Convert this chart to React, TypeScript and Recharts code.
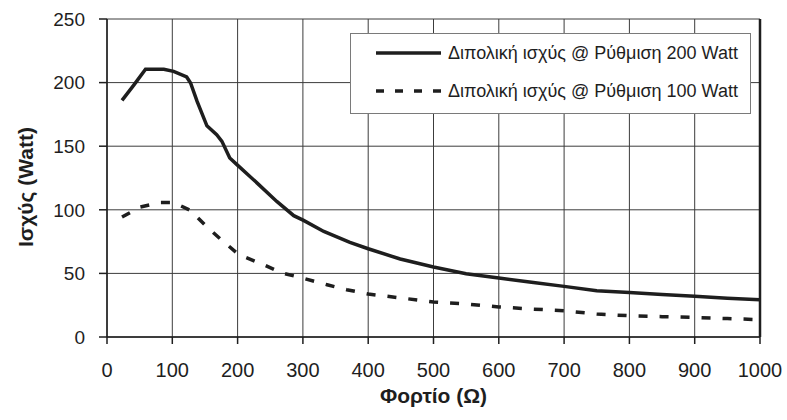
import React from "react";
import {
  LineChart,
  Line,
  XAxis,
  YAxis,
  CartesianGrid,
  Legend,
  ReferenceLine,
} from "recharts";

// Φορτίο (Ω) και ισχύς (Watt), διαβασμένα από το διάγραμμα
const load200 = [23, 41, 59, 87, 102, 122, 128, 138, 153, 168, 176, 188, 199, 230, 260, 286, 301, 332, 372, 400, 449, 500, 550, 600, 650, 700, 750, 800, 850, 900, 950, 1000];
const power200 = [186, 198, 210.5, 210.5, 208.8, 204.4, 199.7, 185.2, 166, 159, 153.8, 140.7, 135.5, 121, 106.6, 95.4, 91.7, 83, 74.4, 69.4, 61.3, 55, 49.8, 46.4, 43, 39.8, 36.4, 35, 33.5, 32, 30.5, 29.3];

const load100 = [23, 51, 82, 102, 128, 153, 179, 202, 240, 268, 299, 337, 367, 400, 450, 500, 550, 600, 650, 700, 750, 800, 850, 900, 950, 1000];
const power100 = [94.3, 102.2, 105.8, 105.8, 99.5, 86.5, 74.7, 64.7, 56.8, 50.3, 46.4, 41.1, 37.2, 33.8, 30.7, 27.5, 26, 23.6, 22, 20.7, 18, 16.7, 16, 15.4, 14.5, 13.6];

const xTicks = [0, 100, 200, 300, 400, 500, 600, 700, 800, 900, 1000];
const yTicks = [0, 50, 100, 150, 200, 250];

const seriesNames = [
  "Διπολική ισχύς @ Ρύθμιση 200 Watt",
  "Διπολική ισχύς @ Ρύθμιση 100 Watt",
];

const data200 = load200.map((x, i) => ({ load: x, power: power200[i] }));
const data100 = load100.map((x, i) => ({ load: x, power: power100[i] }));

const FONT = "'Liberation Sans', Arial, sans-serif";
const INK = "#1e1e1e";

function LegendBox() {
  const dashes = ["", "8 11"];
  return (
    <div
      style={{
        width: 401,
        height: 81,
        boxSizing: "border-box",
        border: "1px solid #7a7a7a",
        background: "#fff",
        fontFamily: FONT,
        fontSize: 18,
        color: INK,
        position: "relative",
      }}
    >
      {seriesNames.map((name, i) => (
        <div
          key={name}
          style={{
            position: "absolute",
            left: 0,
            top: i === 0 ? 7 : 45,
            height: 24,
            display: "flex",
            alignItems: "center",
            whiteSpace: "nowrap",
          }}
        >
          <svg width={96} height={24} style={{ display: "block" }}>
            <line
              x1={25}
              x2={i === 0 ? 90 : 95}
              y1={12}
              y2={12}
              stroke={INK}
              strokeWidth={3.5}
              strokeDasharray={dashes[i] || undefined}
            />
          </svg>
          <span style={{ marginLeft: 1 }}>{name}</span>
        </div>
      ))}
    </div>
  );
}

export default function App() {
  return (
    <div style={{ position: "absolute", left: 0, top: 0, width: 787, height: 420, background: "#fff" }}>
      <LineChart
        width={787}
        height={420}
        margin={{ top: 19, right: 27, bottom: 0, left: 0 }}
      >
        <CartesianGrid stroke="#3c3c3c" strokeWidth={1} vertical horizontal />
        <XAxis
          dataKey="load"
          type="number"
          domain={[0, 1000]}
          ticks={xTicks}
          allowDuplicatedCategory={false}
          height={83}
          tickSize={7}
          tickMargin={19}
          stroke={INK}
          strokeWidth={1.5}
          tick={{ fontSize: 20, fill: INK, fontFamily: FONT }}
          label={{
            content: ({ viewBox }: any) => (
              <text
                x={viewBox.x + viewBox.width / 2}
                y={viewBox.y + 66}
                textAnchor="middle"
                fontFamily={FONT}
                fontWeight="bold"
                fontSize={21}
                fill={INK}
              >
                Φορτίο (Ω)
              </text>
            ),
          }}
        />
        <YAxis
          type="number"
          domain={[0, 250]}
          ticks={yTicks}
          width={107}
          tickSize={8}
          tickMargin={14}
          stroke={INK}
          strokeWidth={1.5}
          tick={{ fontSize: 19, fill: INK, fontFamily: FONT }}
          label={{
            content: ({ viewBox }: any) => {
              const cx = viewBox.x + 25;
              const cy = viewBox.y + viewBox.height / 2 + 9;
              return (
                <text
                  x={cx}
                  y={cy}
                  transform={`rotate(-90 ${cx} ${cy})`}
                  textAnchor="middle"
                  dominantBaseline="central"
                  fontFamily={FONT}
                  fontWeight="bold"
                  fontSize={21}
                  fill={INK}
                >
                  Ισχύς (Watt)
                </text>
              );
            },
          }}
        />
        <ReferenceLine x={1000} stroke={INK} strokeWidth={2.5} />
        <Line
          data={data200}
          dataKey="power"
          name={seriesNames[0]}
          type="linear"
          stroke={INK}
          strokeWidth={3.5}
          dot={false}
          activeDot={false}
          isAnimationActive={false}
        />
        <Line
          data={data100}
          dataKey="power"
          name={seriesNames[1]}
          type="linear"
          stroke={INK}
          strokeWidth={3.5}
          strokeDasharray="9 12"
          dot={false}
          activeDot={false}
          isAnimationActive={false}
        />
        <Legend
          layout="vertical"
          align="center"
          verticalAlign="middle"
          wrapperStyle={{ position: "absolute", left: 350, top: 33, width: 401, height: 81 }}
          content={() => <LegendBox />}
        />
      </LineChart>
    </div>
  );
}
